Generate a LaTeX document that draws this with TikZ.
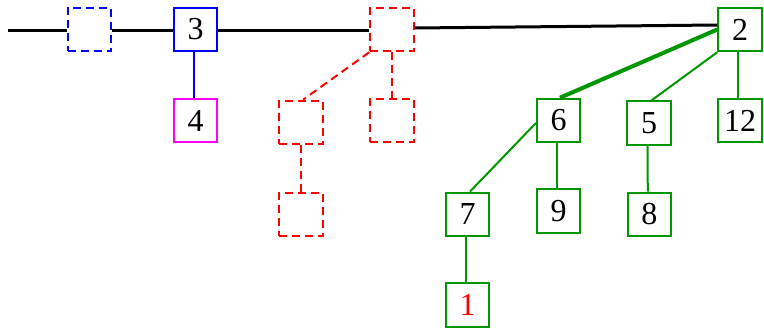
\documentclass[tikz,border=0pt]{standalone}
\usepackage{fontspec}
\setmainfont{Liberation Serif}
\definecolor{treegreen}{RGB}{0,150,0}
\definecolor{pinkbox}{RGB}{255,0,255}
\definecolor{bluebox}{RGB}{0,0,255}
\definecolor{redbox}{RGB}{255,0,0}
\begin{document}
\begin{tikzpicture}[x=1pt,y=-1pt,
  box/.style={draw, minimum size=43.5pt, inner sep=0pt, line width=2pt,
    font=\fontsize{32}{38}\selectfont},
  gbox/.style={box, draw=treegreen},
  ghost/.style={box, dash pattern=on 8pt off 5pt},
  spine/.style={line width=3pt, black},
  gedge/.style={line width=2pt, treegreen},
  redge/.style={line width=2pt, redbox, dash pattern=on 8pt off 5pt}]
\useasboundingbox (0,0) rectangle (764,329);

% main path
\coordinate (lead) at (8,31);
\node[ghost, draw=bluebox] (bdash) at (89.5,29.5) {};
\node[box, draw=bluebox] (n3) at (195.5,29.5) {3};
\node[box, draw=pinkbox] (n4) at (195.5,120.5) {4};

% dashed red subtree
\node[ghost, draw=redbox] (rtop) at (392,29.5) {};
\node[ghost, draw=redbox] (rl) at (301,122.5) {};
\node[ghost, draw=redbox] (rr) at (392,120.5) {};
\node[ghost, draw=redbox] (rb) at (301,214.5) {};

% green tree
\node[gbox] (n2) at (740,29.5) {2};
\node[gbox] (n6) at (558.7,120.5) {6};
\node[gbox] (n5) at (649,123) {5};
\node[gbox] (n12) at (740,120.5) {12};
\node[gbox] (n7) at (467.5,214.3) {7};
\node[gbox] (n9) at (558.7,211) {9};
\node[gbox] (n8) at (649.3,214.3) {8};
\node[gbox] (n1) at (467.5,305) {\textcolor{redbox}{1}};

% spine connectors
\draw[spine] (lead) -- ([yshift=-1.5pt]bdash.west);
\draw[spine] ([yshift=-1.5pt]bdash.east) -- ([yshift=-1.5pt]n3.west);
\draw[spine] ([yshift=-1.5pt]n3.east) -- ([yshift=-1.5pt]rtop.west);
\draw[spine] ([yshift=1.5pt]rtop.east) -- ([yshift=4.5pt]n2.west);

\draw[line width=2pt, bluebox] ([xshift=-1.5pt]n3.south) -- ([xshift=-1.5pt]n4.north);

\draw[redge] (rtop.south west) -- ([xshift=2pt]rl.north);
\draw[redge] (rtop.south) -- (rr.north);
\draw[redge] (rl.south) -- (rb.north);

\draw[line width=4pt, treegreen] (n2.west) -- ([xshift=1.3pt]n6.north);
\draw[gedge] (n2.south west) -- ([xshift=2.7pt]n5.north);
\draw[gedge] ([xshift=-2pt]n2.south) -- ([xshift=-2pt]n12.north);
\draw[gedge] ([yshift=-2.5pt]n6.west) -- ([xshift=2.5pt]n7.north);
\draw[gedge] ([xshift=-1.4pt]n6.south) -- ([xshift=-1.4pt]n9.north);
\draw[gedge] ([xshift=-1.5pt]n5.south) -- ([xshift=-1.5pt]n8.north);
\draw[gedge] ([xshift=-1.5pt]n7.south) -- ([xshift=-1.5pt]n1.north);
\end{tikzpicture}
\end{document}
